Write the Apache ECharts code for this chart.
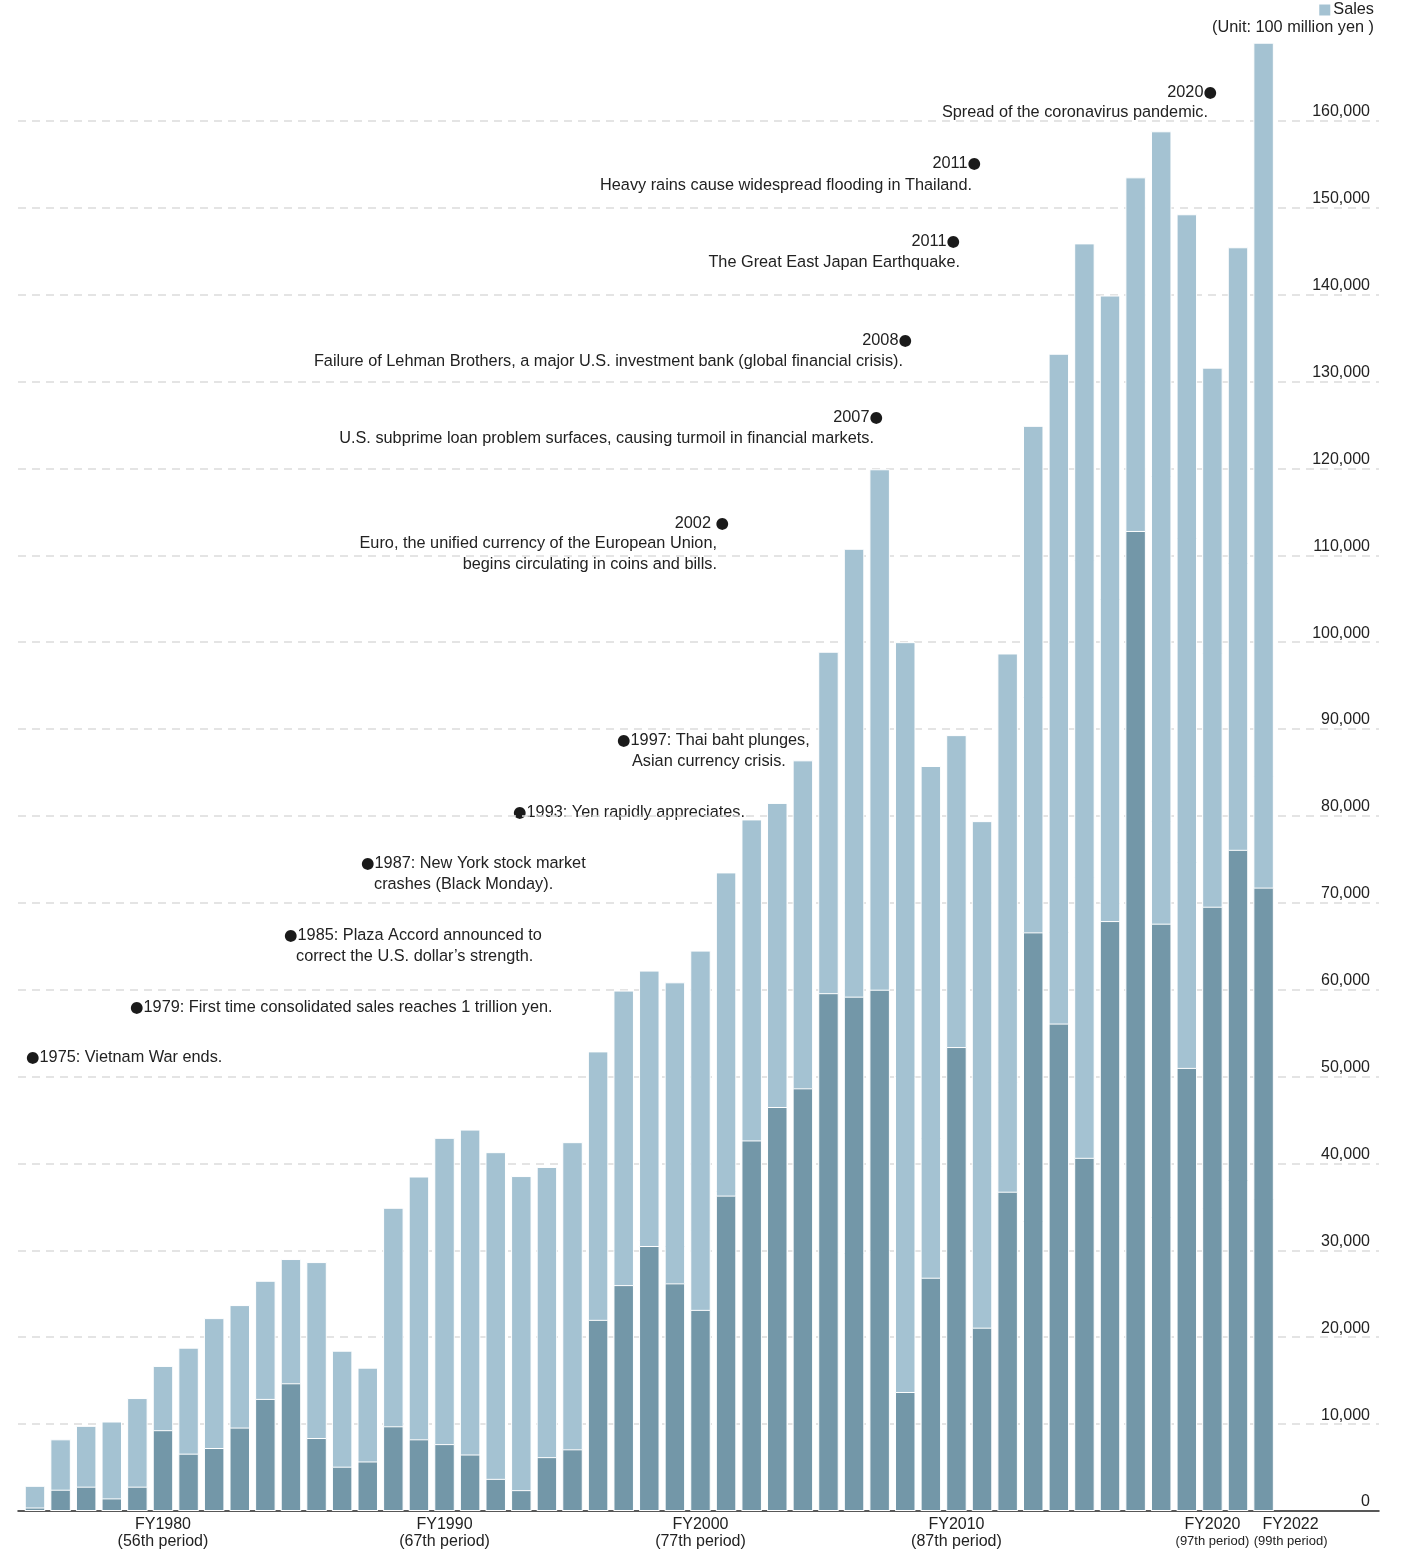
<!DOCTYPE html>
<html>
<head>
<meta charset="utf-8">
<script src="https://cdn.jsdelivr.net/npm/echarts@6/dist/echarts.min.js"></script>
<style>
html,body{margin:0;padding:0;background:#fff;}
#c{width:1405px;height:1556px;}
</style>
</head>
<body>
<div id="c"></div>
<script>
// ---- data ----
const periods = ['51','52','53','54','55','56','57','58','59','60',
  '61','62','63','64','65','66','67','68','69','70',
  '71','72','73','74','75','76','77','78','79','80',
  '81','82','83','84','85','86','87','88','89','90',
  '91','92','93','94','95','96','97','98','99'];

// Sales (unit: 100 million yen), full bar height
const salesTotal = [2900, 8250, 9800, 10300, 13000, 16700, 18800, 22200, 23700, 26500,
  29000, 28650, 18450, 16500, 34900, 38500, 42950, 43900, 41300, 38550,
  39600, 42450, 52900, 59900, 62200, 60850, 64500, 73500, 79600, 81500,
  86400, 98900, 110750, 119900, 100000, 85750, 89300, 79400, 98700, 124900,
  133200, 145900, 139900, 153500, 158800, 149250, 131600, 145450, 169000];

// darker lower segment of each bar
const salesInner = [400, 2450, 2800, 1450, 2800, 9300, 6600, 7250, 9600, 12900,
  14700, 8400, 5100, 5700, 9750, 8250, 7700, 6500, 3700, 2400,
  6200, 7100, 22000, 26000, 30500, 26200, 23150, 36300, 42650, 46500,
  48650, 59600, 59200, 60000, 13700, 26850, 53400, 21100, 36750, 66600,
  56100, 40650, 67900, 112800, 67600, 51000, 69550, 76100, 71750];

const tickPeriods = ['56', '67', '77', '87', '97', '99'];
const tickYears = ['FY1980', 'FY1990', 'FY2000', 'FY2010', 'FY2020', 'FY2022'];
const tickPeriodText = ['(56th period)', '(67th period)', '(77th period)', '(87th period)', '(97th period)', '(99th period)'];

// {d|●} marks the bullet dot
const eventNotes = [
  ['2020{d|\u25CF}', 'Spread of the coronavirus pandemic.'],
  ['2011{d|\u25CF}', 'Heavy rains cause widespread flooding in Thailand.'],
  ['2011{d|\u25CF}', 'The Great East Japan Earthquake.'],
  ['2008{d|\u25CF}', 'Failure of Lehman Brothers, a major U.S. investment bank (global financial crisis).'],
  ['2007{d|\u25CF}', 'U.S. subprime loan problem surfaces, causing turmoil in financial markets.'],
  ['2002 {d|\u25CF}', 'Euro, the unified currency of the European Union,', 'begins circulating in coins and bills.'],
  ['{d|\u25CF}1997: Thai baht plunges,', 'Asian currency crisis.'],
  ['{d|\u25CF}1993: Yen rapidly appreciates.'],
  ['{d|\u25CF}1987: New York stock market', 'crashes (Black Monday).'],
  ['{d|\u25CF}1985: Plaza Accord announced to', 'correct the U.S. dollar\u2019s strength.'],
  ['{d|\u25CF}1979: First time consolidated sales reaches 1 trillion yen.'],
  ['{d|\u25CF}1975: Vietnam War ends.']
];

// ---- layout (annotation placement) ----
// each line: [x, y, align]
const noteLayout = [
  [[1217, 93, 'right'], [1208, 113, 'right']],
  [[981, 164, 'right'], [972, 186, 'right']],
  [[960, 242, 'right'], [960, 263, 'right']],
  [[912, 341, 'right'], [903, 362, 'right']],
  [[883, 418, 'right'], [874, 439, 'right']],
  [[729, 524, 'right'], [717, 544, 'right'], [717, 565, 'right']],
  [[617, 741, 'left'], [632, 762, 'left']],
  [[513, 813, 'left']],
  [[361, 864, 'left'], [374, 885, 'left']],
  [[284, 936, 'left'], [296, 957, 'left']],
  [[130, 1008, 'left']],
  [[26, 1058, 'left']]
];

const FONT = '"Liberation Sans", Arial, Helvetica, sans-serif';
const TXT = '#222';
const FS = 16.3;

const graphics = [];
eventNotes.forEach((lines, i) => {
  lines.forEach((t, j) => {
    const L = noteLayout[i][j];
    graphics.push({
      type: 'text', x: L[0], y: L[1], silent: true,
      style: {
        text: t, align: L[2], verticalAlign: 'middle',
        fontSize: FS, fontFamily: FONT, fill: TXT,
        rich: { d: { fontSize: 15.5, fontFamily: '"DejaVu Sans", sans-serif', fill: '#1a1a1a', lineHeight: 18 } }
      }
    });
  });
});
graphics.push({
  type: 'text', x: 1374, y: 28, silent: true,
  style: { text: '(Unit: 100 million yen )', align: 'right', verticalAlign: 'middle', fontSize: FS, fontFamily: FONT, fill: TXT }
});

const chart = echarts.init(document.getElementById('c'));
const option = {
  animation: false,
  backgroundColor: '#fff',
  textStyle: { fontFamily: FONT },
  legend: {
    data: ['Sales'], right: 31, top: 2, padding: 0, icon: 'rect', itemWidth: 13, itemHeight: 13,
    textStyle: { fontSize: FS, color: TXT, fontFamily: FONT, padding: [0, 0, 0, -3] }
  },
  graphic: graphics,
  grid: [
    { left: 22.2, right: 128.6, top: 34, bottom: 45 },
    { left: 18, right: 26, top: 34, bottom: 45 }
  ],
  xAxis: [
    {
      type: 'category', gridIndex: 0, data: periods,
      axisLine: { show: false }, axisTick: { show: false },
      axisLabel: {
        interval: 0, margin: 5,
        formatter: function (v) {
          const k = tickPeriods.indexOf(v);
          if (k < 0) return '';
          if (k === 5) return '{ys2|' + tickYears[k] + '}\n{ps2|' + tickPeriodText[k] + '}';
          if (k === 4) return '{y|' + tickYears[k] + '}\n{ps|' + tickPeriodText[k] + '}';
          return '{y|' + tickYears[k] + '}\n{p|' + tickPeriodText[k] + '}';
        },
        rich: {
          y: { fontSize: 16, lineHeight: 17, color: TXT, fontFamily: FONT },
          p: { fontSize: 16, lineHeight: 17, color: TXT, fontFamily: FONT },
          ps: { fontSize: 13, lineHeight: 17, color: TXT, fontFamily: FONT },
          ys2: { fontSize: 16, lineHeight: 17, color: TXT, fontFamily: FONT, padding: [0, 0, 0, 54] },
          ps2: { fontSize: 13, lineHeight: 17, color: TXT, fontFamily: FONT, padding: [0, 0, 0, 54] }
        }
      }
    },
    {
      type: 'value', gridIndex: 1, min: 0, max: 1,
      axisLine: { show: true, onZero: false, lineStyle: { color: '#222', width: 1.5 } },
      axisTick: { show: false }, axisLabel: { show: false }, splitLine: { show: false }
    }
  ],
  yAxis: [
    { type: 'value', gridIndex: 0, min: 0, max: 170000, interval: 10000, show: false, splitLine: { show: false } },
    {
      type: 'value', gridIndex: 1, min: 0, max: 170000, interval: 10000, position: 'right',
      axisLine: { show: false }, axisTick: { show: false },
      axisLabel: {
        inside: true, margin: 9, fontSize: 16, color: TXT, fontFamily: FONT,
        verticalAlign: 'bottom', showMaxLabel: false, padding: [0, 0, 1, 0],
        formatter: function (v) { return v >= 170000 ? '' : v.toLocaleString('en-US'); }
      },
      splitLine: {
        show: true, showMinLine: false, showMaxLine: false,
        lineStyle: { type: [8, 6], color: '#dcdcdc', width: 1.5 }
      }
    }
  ],
  series: [
    {
      name: 'Sales', type: 'bar', xAxisIndex: 0, yAxisIndex: 0, data: salesTotal,
      barCategoryGap: '20%', barGap: '-100%',
      itemStyle: { color: '#a4c2d2', borderColor: '#ffffff', borderWidth: 1 }
    },
    {
      name: 'Sales (lower segment)', type: 'bar', xAxisIndex: 0, yAxisIndex: 0, data: salesInner,
      barCategoryGap: '20%', barGap: '-100%',
      itemStyle: { color: '#7397a8', borderColor: '#ffffff', borderWidth: 1 }
    }
  ]
};
chart.setOption(option);
</script>
</body>
</html>
